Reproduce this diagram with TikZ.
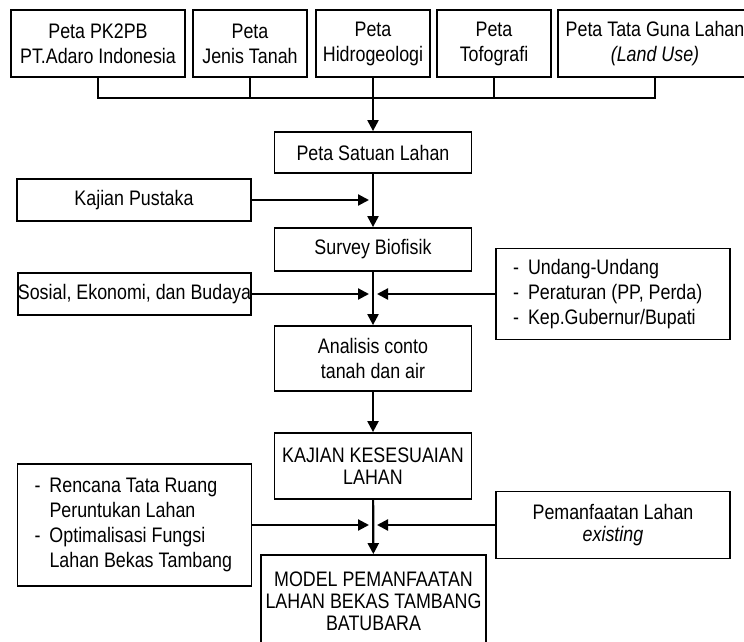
\documentclass[tikz,border=0pt]{standalone}
\usepackage{fontspec}
\setmainfont{Liberation Sans}[FakeStretch=0.85]
\usetikzlibrary{arrows.meta}
\newcommand\lsdash{\makebox[15pt][l]{-}}
\newcommand\lsgap{\hspace*{15pt}}
\begin{document}
\begin{tikzpicture}[x=1pt,y=-1pt,
  font=\fontsize{21}{25}\selectfont,
  box/.style={draw,line width=1.8pt,inner sep=0pt,align=center},
  listbox/.style={draw,line width=1.8pt,inner xsep=17pt,inner ysep=0pt,text width=200pt,align=flush left},
  line/.style={line width=2.2pt},
  side/.style={line,->,shorten >=4pt},
  >={Triangle[length=11pt,width=11pt]}]
  \useasboundingbox (0,0) rectangle (744,642);

  \node (pk2pb) at (98,43.5) [box,minimum width=174pt,minimum height=67pt]{Peta PK2PB\\PT.Adaro Indonesia};
  \node (jenis) at (250,43.5) [box,minimum width=114pt,minimum height=67pt]{Peta\\Jenis Tanah};
  \node (hidro) at (373,43.5) [box,minimum width=114pt,minimum height=67pt]{Peta\\Hidrogeologi};
  \node (tofo) at (494,43.5) [box,minimum width=114pt,minimum height=67pt]{Peta\\Tofografi};
  \node (landuse) at (655,43.5) [box,minimum width=194pt,minimum height=67pt]{Peta Tata Guna Lahan\\\textit{(Land Use)}};

  \node (satuan) at (373,152.5) [box,minimum width=197pt,minimum height=41pt]{Peta Satuan Lahan};
  \node (pustaka) at (134,200) [box,minimum width=234pt,minimum height=42pt]{Kajian Pustaka};
  \node (survey) at (373,249.5) [box,minimum width=197pt,minimum height=43pt]{Survey Biofisik};
  \node (sosial) at (134.5,294) [box,minimum width=233pt,minimum height=42pt]{Sosial, Ekonomi, dan Budaya};
  \node (uu) at (613,294) [listbox,minimum height=91pt]{\lsdash Undang-Undang\\\lsdash Peraturan (PP, Perda)\\\lsdash Kep.Gubernur/Bupati};
  \node (analisis) at (373,358.5) [box,minimum width=197pt,minimum height=65pt]{Analisis conto\\tanah dan air};

  \node (kajian) at (373,466) [box,minimum width=197pt,minimum height=66pt,font=\fontsize{21}{22}\selectfont]{KAJIAN KESESUAIAN\\LAHAN};
  \node (rencana) at (134.5,525) [listbox,minimum height=122pt]{\lsdash Rencana Tata Ruang\\\lsgap Peruntukan Lahan\\\lsdash Optimalisasi Fungsi\\\lsgap \mbox{Lahan Bekas Tambang}};
  \node (existing) at (613,525) [box,minimum width=234pt,minimum height=67pt,font=\fontsize{21}{22}\selectfont]{Pemanfaatan Lahan\\\textit{existing}};
  \node (model) at (373.5,601.5) [box,minimum width=225pt,minimum height=93pt,font=\fontsize{21}{22}\selectfont]{MODEL PEMANFAATAN\\LAHAN BEKAS TAMBANG\\BATUBARA};

  \coordinate (bus) at (373,98);
  \coordinate (j1) at (373,200);
  \coordinate (j2) at (373,294);
  \coordinate (j3) at (373,525);

  \draw[line] (pk2pb.south) |- (bus) -| (landuse.south);
  \draw[line] (jenis.south) -- (jenis |- bus);
  \draw[line] (tofo.south) -- (tofo |- bus);
  \draw[line,->] (hidro.south) -- (satuan.north);

  \draw[line,->] (satuan) -- (survey);
  \draw[side] (pustaka) -- (j1);

  \draw[line,->] (survey) -- (analisis);
  \draw[side] (sosial) -- (j2);
  \draw[side] (uu) -- (j2);

  \draw[line,->] (analisis) -- (kajian);

  \draw[line,->] (kajian) -- (model);
  \draw[side] (rencana) -- (j3);
  \draw[side] (existing) -- (j3);

\end{tikzpicture}
\end{document}
